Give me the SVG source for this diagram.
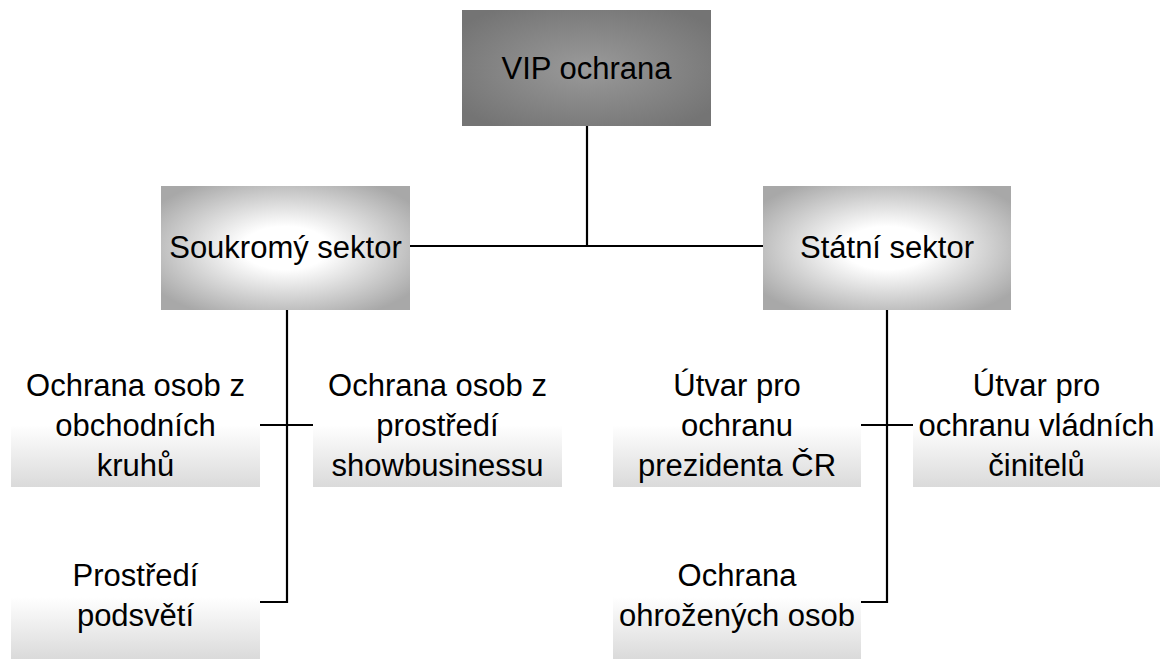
<svg xmlns="http://www.w3.org/2000/svg" width="1160" height="659" viewBox="0 0 1160 659">
<defs>
<radialGradient id="gTop" cx="50%" cy="50%" r="62%">
<stop offset="0" stop-color="#9a9a9a"/>
<stop offset="1" stop-color="#747474"/>
</radialGradient>
<radialGradient id="gMid" cx="50%" cy="50%" r="62%">
<stop offset="0.28" stop-color="#ffffff"/>
<stop offset="1" stop-color="#a8a8a8"/>
</radialGradient>
<linearGradient id="gLow" x1="0" y1="0" x2="0" y2="1">
<stop offset="0.5" stop-color="#ffffff"/>
<stop offset="1" stop-color="#dadada"/>
</linearGradient>
</defs>
<style>
text{font-family:"Liberation Sans",Arial,sans-serif;font-size:31px;fill:#000;text-anchor:middle}
.c{stroke:#000;stroke-width:2.2;fill:none}
</style>
<rect width="1160" height="659" fill="#fff"/>
<g id="connectors">
<line class="c" x1="587" y1="126" x2="587" y2="246"/>
<line class="c" x1="410" y1="246" x2="763" y2="246"/>
<polyline class="c" points="287,310 287,602 260,602"/>
<line class="c" x1="260" y1="425" x2="313" y2="425"/>
<polyline class="c" points="887,310 887,602 861,602"/>
<line class="c" x1="861" y1="425" x2="913" y2="425"/>
</g>
<g id="vip">
<rect x="462" y="10" width="249" height="116" fill="url(#gTop)"/>
<text x="586.5" y="79">VIP ochrana</text>
</g>
<g id="soukromy">
<rect x="161" y="186" width="249" height="124" fill="url(#gMid)"/>
<text x="285.5" y="258">Soukromý sektor</text>
</g>
<g id="statni">
<rect x="763" y="186" width="248" height="124" fill="url(#gMid)"/>
<text x="887" y="258">Státní sektor</text>
</g>
<g id="obchodni">
<rect x="11" y="363" width="249" height="124" fill="url(#gLow)"/>
<text x="135.5" y="396">Ochrana osob z</text>
<text x="135.5" y="436">obchodních</text>
<text x="135.5" y="476">kruhů</text>
</g>
<g id="showbusiness">
<rect x="313" y="363" width="249" height="124" fill="url(#gLow)"/>
<text x="437.5" y="396">Ochrana osob z</text>
<text x="437.5" y="436">prostředí</text>
<text x="437.5" y="476">showbusinessu</text>
</g>
<g id="podsveti">
<rect x="11" y="535" width="249" height="124" fill="url(#gLow)"/>
<text x="135.5" y="586">Prostředí</text>
<text x="135.5" y="626">podsvětí</text>
</g>
<g id="prezident">
<rect x="613" y="363" width="248" height="124" fill="url(#gLow)"/>
<text x="737" y="396">Útvar pro</text>
<text x="737" y="436">ochranu</text>
<text x="737" y="476">prezidenta ČR</text>
</g>
<g id="vladni">
<rect x="913" y="363" width="247" height="124" fill="url(#gLow)"/>
<text x="1036.5" y="396">Útvar pro</text>
<text x="1036.5" y="436">ochranu vládních</text>
<text x="1036.5" y="476">činitelů</text>
</g>
<g id="ohrozene">
<rect x="613" y="535" width="248" height="124" fill="url(#gLow)"/>
<text x="737" y="586">Ochrana</text>
<text x="737" y="626">ohrožených osob</text>
</g>
</svg>
